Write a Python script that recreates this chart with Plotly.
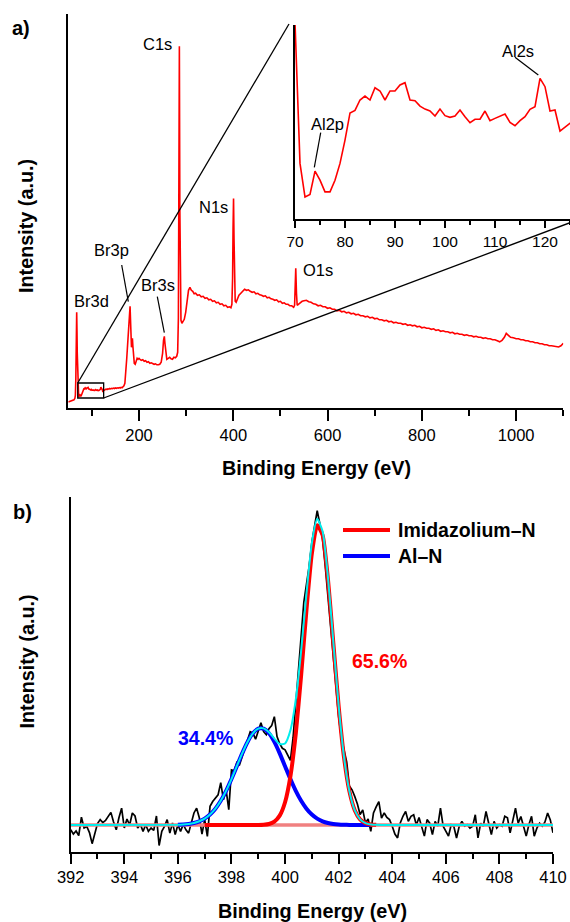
import numpy as np
import plotly.graph_objects as go

W, H = 570, 922
def px(x): return x / W
def py(y): return 1 - y / H

# ---------------- survey spectrum (panel a) ----------------
survey_ev = [50, 54, 58, 62, 64, 65, 66, 67, 67.8, 68.5, 69, 70, 71, 72, 73, 74, 75, 76, 77, 78, 79,
             80, 81, 82, 83, 84, 85, 86, 87, 88, 89, 90, 91, 92, 93, 94, 95, 96, 97, 98, 99,
             100, 101, 102, 103, 104, 105, 106, 107, 108, 109, 110, 111, 112, 113, 114, 115, 116, 117, 118, 119,
             120, 121, 122, 123, 124, 125, 126, 128, 130, 132, 134, 136, 138, 140, 142, 144, 146, 148, 150,
             152, 154, 156, 158, 160, 162, 164, 166, 168, 170, 172, 174, 176, 178, 180, 181, 182, 183, 184,
             185, 186, 187, 188, 189, 190, 192, 194, 196, 198, 200, 202, 205, 208, 211, 214, 217, 220, 223,
             226, 229, 232, 235, 238, 241, 244, 247, 250, 252, 253.7, 255, 257, 259, 262, 265, 268, 271, 274,
             277, 280, 282, 283.5, 284.5, 285.6, 286.6, 287.6, 289, 291, 293, 296, 299, 302, 305, 308, 311,
             314, 317, 320, 324, 328, 332, 336, 340, 344, 348, 352, 356, 360, 364, 368, 372, 376, 380, 384,
             388, 392, 395, 397, 398.5, 399.5, 400.5, 401.5, 402.5, 404, 406, 409, 412, 416, 420, 424, 428,
             432, 436, 440, 444, 448, 452, 456, 460, 464, 468, 472, 476, 480, 484, 488, 492, 496, 500, 504,
             508, 512, 516, 520, 524, 528, 530, 531, 532.5, 534, 535.5, 538, 542, 546, 550, 555, 560, 565,
             570, 575, 580, 585, 590, 595, 600, 605, 610, 615, 620, 625, 630, 635, 640, 645, 650, 655, 660,
             665, 670, 675, 680, 685, 690, 695, 700, 705, 710, 715, 720, 725, 730, 735, 740, 745, 750, 755,
             760, 765, 770, 775, 780, 785, 790, 795, 800, 805, 810, 815, 820, 825, 830, 835, 840, 845, 850,
             855, 860, 865, 870, 875, 880, 885, 890, 895, 900, 905, 910, 915, 920, 925, 930, 935, 940, 945,
             950, 955, 960, 965, 970, 975, 979, 983, 988, 994, 1000, 1005, 1010, 1015, 1020, 1025, 1030,
             1035, 1040, 1045, 1050, 1055, 1060, 1065, 1070, 1075, 1080, 1085, 1090, 1095, 1100]
survey_int = [6.3, 6.8, 7.5, 8.5, 10, 13, 30, 70, 96, 75, 55, 25.5, 14.6, 12.0, 12.2, 14.0, 13.3, 12.4, 12.4, 13.3, 14.6,
              16.4, 18.5, 18.7, 19.5, 19.8, 19.5, 20.45, 20.2, 19.5, 20.2, 20.2, 20.66, 20.84, 19.5, 19.44, 19.03, 18.8, 18.65, 18.26, 18.8,
              18.29, 18.16, 18.26, 18.73, 18.21, 17.74, 18.01, 18.01, 18.65, 17.9, 18.08, 18.26, 18.42, 17.77, 17.51, 17.9, 18.21, 18.78, 18.98, 21.18,
              20.53, 18.65, 18.73, 17.1, 17.39, 17.7, 18.0, 18.6, 19.2, 18.8, 19.5, 19.1, 19.8, 19.4, 20.0, 19.6, 20.2, 19.8, 20.4,
              19.9, 20.5, 20.1, 20.7, 20.3, 21.0, 20.6, 21.5, 22.5, 25, 35, 50, 65, 80, 100, 102, 88, 70, 61,
              65, 70, 62, 52, 47, 45, 44, 48, 50, 49, 50, 49, 48, 48.5, 47, 47.5, 46, 46.5, 45,
              45.5, 44.5, 44, 44.5, 43.5, 43.5, 44, 46, 55, 68, 72, 65, 52, 49, 50, 51, 49.5, 49, 51,
              50.5, 52, 56, 90, 200, 362, 200, 110, 88, 85, 86.5, 89, 96, 108, 118, 121, 118,
              117, 114.5, 115, 113, 113.5, 111.5, 112, 110, 110.5, 108.5, 109, 107, 107.5, 105.5, 106, 104, 104.5, 102.5, 103,
              101, 101.5, 100.5, 104, 130, 180, 209.7, 170, 120, 107, 106, 110, 113, 115, 117.5, 119, 118,
              118.5, 117, 116, 116.5, 114.5, 115, 113.5, 113, 112, 112.5, 110.5, 111, 109.5, 109, 108, 108.5, 106.5, 107, 105,
              105.5, 104, 104, 102.5, 102.5, 101, 103, 125, 140, 115, 103, 104, 105.5, 107, 107.5, 108, 106.5, 106,
              104.5, 104, 102.5, 103, 101.5, 101.5, 100, 100.5, 99, 99, 97.5, 98, 96.5, 97, 95.5, 96, 94.5, 95, 93.5,
              94, 92.5, 92.5, 91.5, 92, 90.5, 91, 89.5, 90, 88.5, 88.5, 87.5, 88, 86.5, 87, 85.5, 86, 85, 85,
              84, 84.5, 83, 83.5, 82.5, 83, 81.5, 82, 80.5, 81, 80, 80, 79, 79.5, 78, 78.5, 77, 77.5, 76.5,
              76.5, 75.5, 76, 74.5, 75, 74, 74, 73, 73.5, 72.5, 72.5, 71.5, 72, 71, 71, 70, 70.5, 69.5, 69.5,
              68.5, 68.5, 67.5, 66.5, 68, 71, 75, 73, 71, 70.5, 69.5, 69.5, 68.5, 68.5, 67.5, 67.5, 66.5,
              66.5, 65.5, 65.5, 64.5, 64.5, 63.5, 63.5, 62.5, 62.5, 62, 61.5, 61.3, 62.5, 65]

survey_labels = ["Br3d", "Br3p", "Br3s", "C1s", "N1s", "O1s"]
inset_labels = ["Al2p", "Al2s"]

# ---------------- N1s high-resolution (panel b) ----------------
n1s_ev = np.round(np.arange(392.0, 410.0001, 0.1), 1).tolist()  # acquisition grid
n1s_int = [
    -0.016, -0.03, -0.02, -0.035, 0.026, -0.01, -0.005, -0.025, -0.062, -0.032,   # 392.0-392.9
    0.005, 0.018, 0.008, 0.015, 0.03, 0.042, 0.01, -0.016, 0.024, 0.056,          # 393
    -0.01, 0.02, 0.0, 0.04, 0.03, -0.01, 0.002, -0.021, 0.001, -0.021,            # 394
    -0.01, -0.018, 0.03, -0.068, -0.021, -0.005, 0.018, -0.027, 0.007, -0.032,    # 395
    0.001, -0.021, 0.002, -0.016, -0.027, 0.003, 0.04, 0.056, 0.024, -0.03,       # 396
    0.018, -0.038, 0.062, 0.078, 0.089, 0.10, 0.141, 0.084, 0.117, 0.051,         # 397
    0.183, 0.18, 0.208, 0.2, 0.227, 0.258, 0.282, 0.31, 0.305, 0.285,             # 398
    0.31, 0.34, 0.31, 0.30, 0.32, 0.33, 0.36, 0.294, 0.27, 0.255,                 # 399
    0.25, 0.23, 0.215, 0.29, 0.40, 0.51, 0.63, 0.74, 0.8, 0.86,                   # 400
    0.94, 0.99, 1.044, 1.0, 0.95, 0.86, 0.76, 0.65, 0.55, 0.45,                   # 401
    0.36, 0.29, 0.25, 0.21, 0.13, 0.117, 0.095, 0.07, 0.035, 0.05,                # 402
    0.007, 0.02, -0.021, 0.04, 0.06, 0.078, 0.023, 0.04, 0.025, 0.018,            # 403
    -0.004, -0.03, -0.043, 0.007, 0.029, 0.045, 0.012, 0.029, 0.034, 0.0,         # 404
    0.025, -0.01, -0.037, 0.018, 0.006, -0.032, 0.012, -0.004, 0.056, -0.004,     # 405
    -0.021, -0.037, 0.001, -0.005, -0.043, -0.004, 0.012, -0.004, 0.001, -0.01,   # 406
    -0.004, 0.034, -0.043, 0.006, -0.004, 0.045, 0.006, -0.032, 0.012, -0.01,     # 407
    0.001, -0.004, 0.029, 0.024, -0.026, 0.017, 0.056, 0.006, 0.028, -0.004,      # 408
    -0.037, 0.001, 0.029, -0.037, -0.01, 0.006, -0.004, 0.01, 0.04, 0.017,        # 409
    -0.026]                                                                        # 410.0

fit_ev = [396.0, 396.2, 396.4, 396.6, 396.8, 397.0, 397.2, 397.4, 397.6, 397.8,
          398.0, 398.2, 398.4, 398.6, 398.8, 399.0, 399.2, 399.4, 399.6, 399.8,
          400.0, 400.2, 400.4, 400.6, 400.8, 401.0, 401.2, 401.4, 401.6, 401.8,
          402.0, 402.2, 402.4, 402.6, 402.8, 403.0, 403.2, 403.4, 403.6]
fit_imidazolium = [0, 0, 0, 0, 0, 0, 0, 0, 0, 0,
                   0, 0, 0, 0, 0, 0.0002, 0.001, 0.0035, 0.0111, 0.031,
                   0.0756, 0.1617, 0.303, 0.4975, 0.7156, 0.9018, 0.996, 0.9635, 0.8167, 0.6065,
                   0.3946, 0.225, 0.1124, 0.0492, 0.0189, 0.0063, 0.0019, 0.0005, 0.0001]
fit_aln = [0.0009, 0.0018, 0.0036, 0.0068, 0.0123, 0.0212, 0.0347, 0.0541, 0.0803, 0.1134,
           0.1526, 0.1953, 0.238, 0.276, 0.3046, 0.320, 0.320, 0.3046, 0.276, 0.238,
           0.1953, 0.1526, 0.1134, 0.0803, 0.0541, 0.0347, 0.0212, 0.0123, 0.0068, 0.0036,
           0.0018, 0.0009, 0.0004, 0.0002, 0.0001, 0, 0, 0, 0]
fit_envelope = [0.0009, 0.0018, 0.0036, 0.0068, 0.0123, 0.0212, 0.0347, 0.0541, 0.0803, 0.1134,
                0.1526, 0.1953, 0.238, 0.276, 0.3046, 0.3202, 0.321, 0.3081, 0.2871, 0.269,
                0.2709, 0.3143, 0.4164, 0.5778, 0.7697, 0.9365, 1.0172, 0.9758, 0.8235, 0.6101,
                0.3964, 0.2259, 0.1128, 0.0492, 0.0189, 0.0063, 0.0019, 0.0005, 0.0001]
component_names = ["Imidazolium–N", "Al–N"]
component_shares = ["65.6%", "34.4%"]

# ---------------- layout geometry ----------------
main_xr, main_yr = [50, 1100], [0, 394.3]
ins_xr, ins_yr = [70, 125], [10.3, 25.3]
b_xr, b_yr = [392, 410], [-0.0887, 1.0897]
main_xd, main_yd = [px(68.3), px(563.3)], [py(408.3), py(14)]
ins_xd, ins_yd = [px(295), 1.0], [py(219), py(25)]
b_xd, b_yd = [px(70.7), px(553)], [py(851.7), py(497)]

FONT = "Liberation Sans, Arial, sans-serif"
RED, BLUE, CYAN = "#FF0000", "#0000FF", "#00EEEE"

fig = go.Figure()
fig.add_trace(go.Scatter(x=survey_ev, y=survey_int, xaxis="x", yaxis="y", mode="lines",
                         line=dict(color=RED, width=1.6), showlegend=False))
fig.add_trace(go.Scatter(x=survey_ev, y=survey_int, xaxis="x2", yaxis="y2", mode="lines",
                         line=dict(color=RED, width=1.6), showlegend=False))

fig.add_trace(go.Scatter(x=n1s_ev, y=n1s_int, xaxis="x3", yaxis="y3", mode="lines",
                         line=dict(color="black", width=1.7), showlegend=False))
fig.add_trace(go.Scatter(x=[b_xr[0], b_xr[1]], y=[0, 0], xaxis="x3", yaxis="y3", mode="lines",
                         line=dict(color="#F08080", width=3.5), showlegend=False))
blue_x = [e for e in fit_ev if 395.8 <= e <= 403.2]
blue_y = [v for e, v in zip(fit_ev, fit_aln) if 395.8 <= e <= 403.2]
fig.add_trace(go.Scatter(x=blue_x, y=blue_y, xaxis="x3", yaxis="y3", mode="lines",
                         line=dict(color=BLUE, width=4, shape="spline", smoothing=0.6),
                         name=component_names[1], showlegend=False))
red_x = [e for e in fit_ev if 397.0 <= e <= 403.4]
red_y = [v for e, v in zip(fit_ev, fit_imidazolium) if 397.0 <= e <= 403.4]
fig.add_trace(go.Scatter(x=red_x, y=red_y, xaxis="x3", yaxis="y3", mode="lines",
                         line=dict(color=RED, width=4, shape="spline", smoothing=0.6),
                         name=component_names[0], showlegend=False))
fig.add_trace(go.Scatter(x=[b_xr[0]] + fit_ev + [b_xr[1]], y=[0] + fit_envelope + [0],
                         xaxis="x3", yaxis="y3", mode="lines",
                         line=dict(color=CYAN, width=2, shape="spline", smoothing=0.6), showlegend=False))

axis_common = dict(showline=True, linecolor="black", linewidth=1.8, showgrid=False, zeroline=False,
                   mirror=False, automargin=False)
tickf = dict(family=FONT, size=16.5, color="black")

fig.update_layout(
    width=W, height=H, autosize=False,
    margin=dict(l=0, r=0, t=0, b=0, autoexpand=False),
    paper_bgcolor="white", plot_bgcolor="rgba(0,0,0,0)",
    xaxis=dict(domain=main_xd, range=main_xr, anchor="y", ticks="outside", ticklen=11, tickwidth=1.8,
               tickcolor="black", tick0=0, dtick=200, tickfont=tickf,
               minor=dict(dtick=100, tick0=0, ticks="outside", ticklen=6, tickwidth=1.8, tickcolor="black"),
               **axis_common),
    yaxis=dict(domain=main_yd, range=main_yr, anchor="x", showticklabels=False, ticks="", **axis_common),
    xaxis2=dict(domain=ins_xd, range=ins_xr, anchor="y2", ticks="outside", ticklen=7, tickwidth=1.5,
                tickcolor="black", tick0=70, dtick=10, tickfont=dict(family=FONT, size=15.5, color="black"),
                minor=dict(dtick=5, tick0=70, ticks="outside", ticklen=4.5, tickwidth=1.5, tickcolor="black"),
                **axis_common),
    yaxis2=dict(domain=ins_yd, range=ins_yr, anchor="x2", showticklabels=False, ticks="", **axis_common),
    xaxis3=dict(domain=b_xd, range=b_xr, anchor="y3", ticks="outside", ticklen=10, tickwidth=1.8,
                tickcolor="black", tick0=392, dtick=2, tickfont=tickf,
                minor=dict(dtick=1, tick0=392, ticks="outside", ticklen=5, tickwidth=1.8, tickcolor="black"),
                **axis_common),
    yaxis3=dict(domain=b_yd, range=b_yr, anchor="x3", showticklabels=False, ticks="", **axis_common),
)

def main_to_paper(xv, yv):
    fx = main_xd[0] + (xv - main_xr[0]) / (main_xr[1] - main_xr[0]) * (main_xd[1] - main_xd[0])
    fy = main_yd[0] + (yv - main_yr[0]) / (main_yr[1] - main_yr[0]) * (main_yd[1] - main_yd[0])
    return fx, fy

shapes = []
# zoom box in main panel = inset range
shapes.append(dict(type="rect", xref="x", yref="y", x0=ins_xr[0], x1=ins_xr[1], y0=ins_yr[0], y1=ins_yr[1],
                   line=dict(color="black", width=1.3)))
c1 = main_to_paper(ins_xr[0], ins_yr[1])
c2 = main_to_paper(ins_xr[1], ins_yr[0])
shapes.append(dict(type="line", xref="paper", yref="paper", x0=c1[0], y0=c1[1], x1=px(289), y1=py(24),
                   line=dict(color="black", width=1.3)))
shapes.append(dict(type="line", xref="paper", yref="paper", x0=c2[0], y0=c2[1], x1=px(570), y1=py(222.7),
                   line=dict(color="black", width=1.3)))
# leader lines
for (xa, ya, xb, yb) in [(121.7, 265, 128.3, 301.7), (157.3, 296.7, 164.3, 332.7),
                         (320.7, 132.7, 314.3, 167.3), (515, 57.3, 538.3, 75)]:
    shapes.append(dict(type="line", xref="paper", yref="paper", x0=px(xa), y0=py(ya), x1=px(xb), y1=py(yb),
                       line=dict(color="black", width=1.2)))
# legend samples
shapes.append(dict(type="line", xref="paper", yref="paper", x0=px(343), x1=px(390), y0=py(530), y1=py(530),
                   line=dict(color=RED, width=4)))
shapes.append(dict(type="line", xref="paper", yref="paper", x0=px(343), x1=px(390), y0=py(556), y1=py(556),
                   line=dict(color=BLUE, width=4)))
fig.update_layout(shapes=shapes)

# annotations positioned relative to the main panel's axis domain (avoids margin auto-expansion)
def ann(text, x, y, size=16.5, bold=False, color="black", angle=0, xanchor="center"):
    t = f"<b>{text}</b>" if bold else text
    fx = (px(x) - main_xd[0]) / (main_xd[1] - main_xd[0])
    fy = (py(y) - main_yd[0]) / (main_yd[1] - main_yd[0])
    return dict(text=t, x=fx, y=fy, xref="x domain", yref="y domain", showarrow=False,
                xanchor=xanchor, yanchor="middle", textangle=angle,
                font=dict(family=FONT, size=size, color=color))

annotations = [
    ann("a)", 21, 28, 20, True),
    ann("b)", 22, 512, 20, True),
    ann(survey_labels[3], 158, 44),
    ann(survey_labels[4], 213, 206.5),
    ann(survey_labels[5], 317.5, 270),
    ann(survey_labels[1], 111.5, 250),
    ann(survey_labels[2], 158.3, 285),
    ann(survey_labels[0], 91.7, 301),
    ann(inset_labels[0], 327.3, 124),
    ann(inset_labels[1], 518.3, 51),
    ann("Intensity (a.u.)", 26, 226, 19.8, True, angle=-90),
    ann("Intensity (a.u.)", 26, 661.5, 19.8, True, angle=-90),
    ann("Binding Energy (eV)", 316.5, 468, 19.8, True),
    ann("Binding Energy (eV)", 312.5, 911, 19.8, True),
    ann(component_names[0], 396, 530, 19.5, True, xanchor="left"),
    ann(component_names[1], 396, 556, 19.5, True, xanchor="left"),
    ann(component_shares[0], 379, 660.5, 19.5, True, color=RED),
    ann(component_shares[1], 205.5, 737.5, 19.5, True, color=BLUE),
]
fig.update_layout(annotations=annotations)

# remove the default 8px page margin so the figure sits at the window's top-left corner
fig.write_html("out.html", config={"displayModeBar": False},
               post_script="document.body.style.margin='0';document.body.style.overflow='hidden';")
